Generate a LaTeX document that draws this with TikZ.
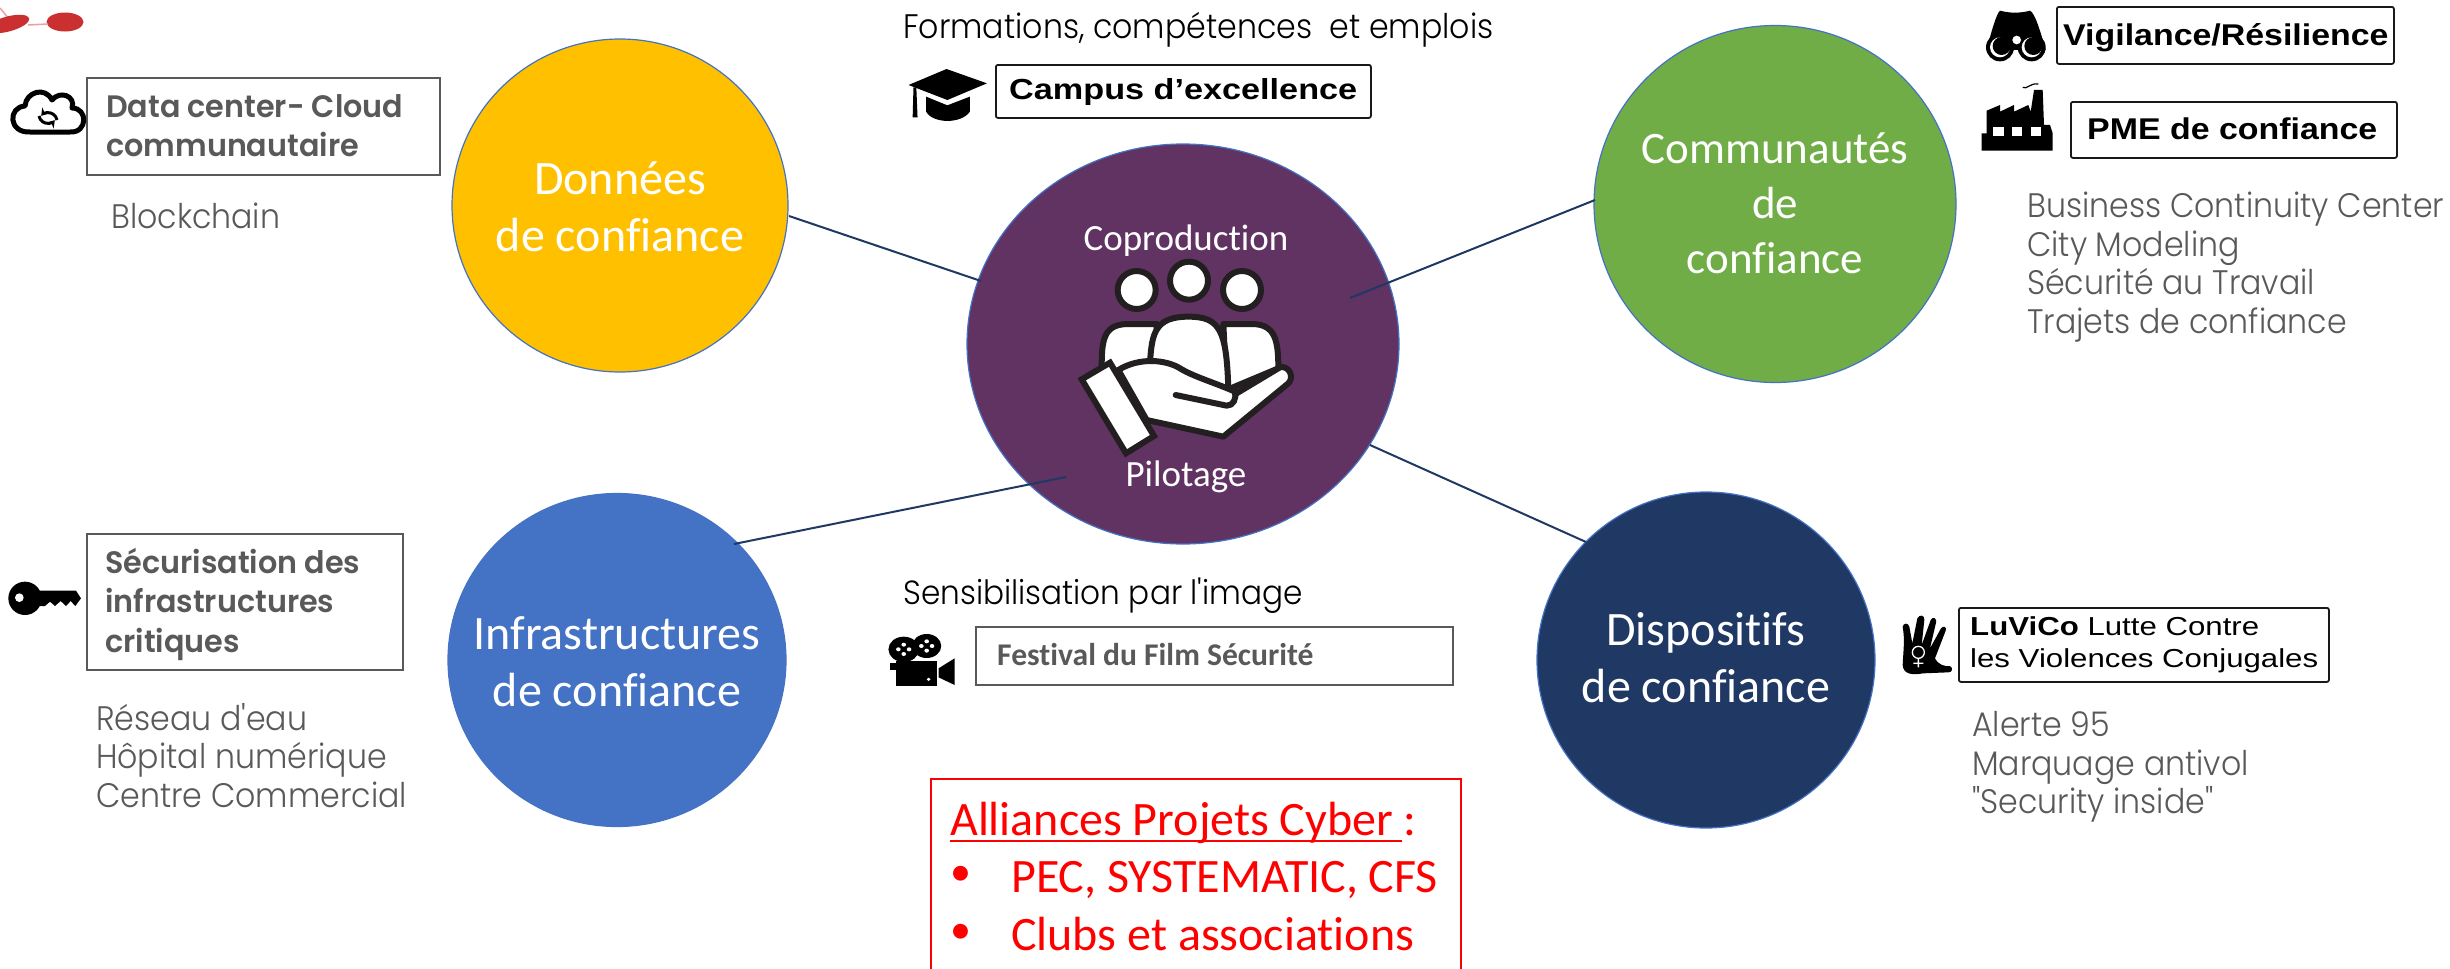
\documentclass[tikz,border=0pt]{standalone}
\usepackage{fontspec}
\usetikzlibrary{arrows.meta,shapes.geometric}
\setmainfont{Carlito}[Ligatures=NoCommon]
\newfontfamily\gothic{Poppins Light}[FakeStretch=0.93]
\newfontfamily\gothicb{Poppins SemiBold}[FakeStretch=0.975]
\newfontfamily\helv{Liberation Sans}[FakeStretch=1.13]
\newfontfamily\helvc{Liberation Sans}[FakeStretch=1.18]
\newfontfamily\helvl{Liberation Sans}[FakeStretch=1.2]
\definecolor{grayt}{HTML}{595959}
\definecolor{navy}{HTML}{1F3864}
\definecolor{edgeb}{HTML}{4472C4}
\definecolor{iconk}{HTML}{231F20}
\definecolor{gold}{HTML}{FFC000}
\definecolor{leaf}{HTML}{70AD47}
\definecolor{plum}{HTML}{603363}
\definecolor{redblob}{HTML}{C9302F}
\tikzset{
  x=1pt,y=-1pt,
  disc/.style={ellipse,draw=edgeb,line width=1.2pt,inner sep=0pt},
  link/.style={draw=navy,line width=2pt},
  disctext/.style={align=center,text=white,inner sep=0pt,anchor=center},
  lab/.style={anchor=base west,inner sep=0pt,align=left},
  thinbox/.style={draw=black!65,line width=2pt,rectangle,inner sep=0pt,anchor=north west},
  blackbox/.style={draw=black!90,line width=1.8pt,rectangle,rounded corners=2pt,inner sep=0pt,anchor=north west},
  listt/.style={lab,text=grayt,font=\gothic\fontsize{34}{38.4}\selectfont},
  headt/.style={lab,text=black,font=\gothic\fontsize{34}{38}\selectfont},
  graybold/.style={lab,text=grayt,font=\gothicb\fontsize{31}{39.5}\selectfont},
  blackt/.style={lab,text=black,font=\helv\bfseries\fontsize{30}{32}\selectfont},
  redt/.style={lab,text=red,font=\fontsize{48}{48}\selectfont},
  wt/.style={disctext,font=\fontsize{48}{57}\selectfont},
  ict/.style={inner sep=0pt,anchor=base,text=white,font=\fontsize{37}{37}\selectfont},
  handline/.style={draw=iconk,line width=6pt,line join=round,line cap=round,fill=white}
}
\begin{document}
\begin{tikzpicture}
\useasboundingbox (0,0) rectangle (2450,969);
\fill[white] (0,0) rectangle (2450,969);

% red blobs, cut by the top-left corner
\draw[redblob!45,line width=1.5pt] (0,8) -- (9,19);
\fill[redblob] (8,24) ellipse [x radius=22,y radius=7.5,rotate=15];
\fill[redblob] (65,22) ellipse [x radius=18.5,y radius=9.5];
\draw[redblob!45,line width=1.5pt] (28,25) -- (48,24);

% discs
\node[disc,fill=gold,minimum width=336pt,minimum height=333pt] (donnees) at (620,205.5) {};
\node[disc,fill=leaf,minimum width=362pt,minimum height=357pt] (communautes) at (1775,204) {};
\node[disc,fill=edgeb,minimum width=338pt,minimum height=333pt] (infra) at (617,660) {};
\node[disc,fill=navy,minimum width=338pt,minimum height=336pt] (dispositifs) at (1706,660) {};
\node[ellipse,draw=edgeb,line width=1.2pt,fill=plum,inner sep=0pt,minimum width=432pt,minimum height=400pt] (pilotage) at (1183,344) {};

% connectors
\coordinate (d1) at (789,216); \coordinate (d2) at (981,281);
\coordinate (c1) at (1595,200); \coordinate (c2) at (1350,298);
\coordinate (i1) at (734,544); \coordinate (i2) at (1066,477);
\coordinate (p1) at (1586,542); \coordinate (p2) at (1370,445);
\draw[link] (d1) -- (d2);
\draw[link] (c1) -- (c2);
\draw[link] (i1) -- (i2);
\draw[link] (p1) -- (p2);

% disc labels
\node[wt] (tdonnees) at (620,207) {Données\\de confiance};
\node[wt,font=\fontsize{45}{55}\selectfont] (tcomm) at (1775,203) {Communautés\\de\\confiance};
\node[wt] (tinfra) at (617,662) {Infrastructures\\de confiance};
\node[wt] (tdisp) at (1706,658) {Dispositifs\\de confiance};
\node[ict] (tcopro) at (1186,250) {Coproduction};
\node[ict] (tpilot) at (1186,486) {Pilotage};

% top centre
\node[headt] (tform) at (903,38) {Formations, compétences\ \ et emplois};
\node[blackbox,minimum width=375pt,minimum height=53pt] (bcampus) at (995,64) {};
\node[lab,text=black,font=\helvc\bfseries\fontsize{29}{32}\selectfont] (tcampus) at (1009,99) {Campus d’excellence};

% top right
\node[blackbox,minimum width=337pt,minimum height=57pt] (bvigil) at (2056,6) {};
\node[blackt] (tvigil) at (2063,45) {Vigilance/Résilience};
\node[blackbox,minimum width=326pt,minimum height=56pt] (bpme) at (2070,101) {};
\node[blackt] (tpme) at (2087,139) {PME de confiance};
\node[listt] (lcomm) at (2027,333) {Business Continuity Center\\City Modeling\\Sécurité au Travail\\Trajets de confiance};

% left column
\node[thinbox,minimum width=353pt,minimum height=97pt] (bcloud) at (86,77) {};
\node[graybold] (tcloud) at (106,156.5) {Data center- Cloud\\communautaire};
\node[listt] (lchain) at (111,228) {Blockchain};
\node[thinbox,minimum width=316pt,minimum height=136pt] (bsecu) at (86,533) {};
\node[graybold] (tsecu) at (105,652) {Sécurisation des\\infrastructures\\critiques};
\node[listt] (lres) at (96,807) {Réseau d'eau\\Hôpital numérique\\Centre Commercial};

% bottom centre
\node[headt,font=\gothic\fontsize{33.5}{38}\selectfont] (tsens) at (903,604) {Sensibilisation par l'image};
\node[thinbox,minimum width=477pt,minimum height=58pt] (bfilm) at (975,626) {};
\node[lab,text=grayt,font=\bfseries\fontsize{31.6}{32}\selectfont] (tfilm) at (997,665) {Festival du Film Sécurité};

% bottom right
\node[blackbox,minimum width=370pt,minimum height=74pt] (bluv) at (1958,607) {};
\node[lab,text=black,font=\helvl\fontsize{26}{32}\selectfont] (tluv) at (1970,667) {\textbf{LuViCo} Lutte Contre\\les Violences Conjugales};
\node[listt] (lalert) at (1972,813.5) {Alerte 95\\Marquage antivol\\"Security inside"};

% red box
\draw[red,line width=2.5pt] (931,969) |- (1461,779) -- (1461,969);
\node[redt] (tall) at (950,835) {Alliances Projets Cyber :};
\draw[red,line width=2.5pt] (tall.base west) ++(0,6) -- ++(452,0);
\node[redt,font=\fontsize{42}{42}\selectfont] (b1) at (950,885) {•};
\node[redt] (tpec) at (1011,892) {PEC, SYSTEMATIC, CFS};
\node[redt,font=\fontsize{42}{42}\selectfont] (b2) at (950,943) {•};
\node[redt] (tclub) at (1011,950) {Clubs et associations};

% cloud icon
\draw[black,line width=5pt,fill=white,line join=round]
 (30,132) .. controls (8,133) and (8,107) .. (25,106)
 .. controls (26,92) and (45,86) .. (52,100)
 .. controls (60,90) and (76,96) .. (72,108)
 .. controls (88,108) and (88,133) .. (70,132) -- cycle;
\draw[line width=3pt,-{Stealth[length=7pt,width=9pt]}] (39,116) arc[start angle=170,end angle=40,radius=9];
\draw[line width=3pt,-{Stealth[length=7pt,width=9pt]}] (57,120) arc[start angle=350,end angle=220,radius=9];

% graduation cap
\begin{scope}[shift={(880,0)},xscale=1/2.45,yscale=1/3]
\fill (163,207) -- (262,250) -- (165,300) -- (70,255) -- cycle;
\fill (113,290) -- (165,316) -- (220,290) -- (220,335) .. controls (200,372) and (130,372) .. (113,335) -- cycle;
\fill (82,262) -- (89,262) -- (92,352) -- (80,352) -- cycle;
\end{scope}

% binoculars
\begin{scope}[shift={(1960,0)},scale=1/3]
\fill (120,32) .. controls (150,40) and (180,40) .. (210,32) .. controls (225,40) and (240,90) .. (257,150) -- (80,150) .. controls (95,90) and (110,40) .. (120,32) -- cycle;
\fill (120,142) circle[radius=42];
\fill (215,142) circle[radius=42];
\fill[white] (120,142) circle[radius=30];
\fill[white] (215,142) circle[radius=30];
\fill (125,138) circle[radius=27];
\fill (220,138) circle[radius=27];
\fill[white] (170,120) circle[radius=13];
\end{scope}

% factory
\begin{scope}[shift={(1960,0)},scale=1/3]
\fill (65,400) -- (80,400) -- (80,332) -- (120,315) -- (120,335) -- (162,315) -- (162,335) -- (205,315) -- (212,335) -- (222,270) -- (248,270) -- (252,375) -- (270,375) -- (278,400) -- (278,452) -- (65,452) -- cycle;
\fill[white] (99,380) rectangle (131,408);
\fill[white] (155,380) rectangle (186,408);
\fill[white] (212,380) rectangle (243,408);
\draw[line width=1.2pt] (188,262) .. controls (200,270) and (210,248) .. (235,252);
\end{scope}

% key
\begin{scope}[shift={(0,520)},scale=1/3]
\fill (75,235) circle[radius=50];
\fill (115,212) -- (228,212) -- (243,235) -- (226,258) -- (212,243) -- (198,258) -- (182,243) -- (165,258) -- (150,245) -- (135,258) -- (115,258) -- cycle;
\fill[white] (58,233) circle[radius=13];
\end{scope}

% film camera
\begin{scope}[shift={(880,570)},xscale=1/2.613,yscale=1/3]
\fill (62,238) ellipse [x radius=40,y radius=38];
\fill (122,228) ellipse [x radius=38,y radius=36];
\fill (42,272) rectangle (148,347);
\fill (25,278) rectangle (45,300);
\fill (153,295) -- (195,265) -- (195,345) -- (153,322) -- cycle;
\foreach \a in {0,90,180,270}{
  \fill[white] (62,238) ++(\a:14) circle[radius=6];
  \fill[white] (122,228) ++(\a:14) circle[radius=6];
}
\fill[white] (127,328) circle[radius=5];
\end{scope}

% hand with symbol
\begin{scope}[shift={(1880,590)},scale=1/3]
\fill (68,225) .. controls (70,180) and (75,150) .. (68,110) .. controls (70,98) and (85,98) .. (88,110)
 -- (97,160) -- (112,85) .. controls (118,72) and (135,75) .. (133,90)
 -- (125,165) -- (152,90) .. controls (158,78) and (172,85) .. (168,98)
 -- (150,175) -- (183,115) .. controls (190,105) and (202,112) .. (197,122)
 -- (165,205) .. controls (175,225) and (195,230) .. (210,228) .. controls (222,235) and (215,248) .. (205,247)
 -- (130,250) .. controls (100,255) and (70,255) .. (68,225) -- cycle;
\draw[white,line width=1.3pt] (115,187) circle[radius=18] (115,205) -- (115,232) (100,220) -- (130,220);
\end{scope}

% central people in a hand
\begin{scope}[shift={(1040,220)},scale=1/3]
\draw[handline] (290,210) circle[radius=57];
\draw[handline] (447,182) circle[radius=57];
\draw[handline] (606,210) circle[radius=57];
\draw[handline] (185,445) .. controls (185,360) and (190,315) .. (260,312) -- (350,312) -- (350,470) -- cycle;
\draw[handline] (715,445) .. controls (715,360) and (705,315) .. (640,312) -- (550,312) -- (560,510) -- cycle;
\draw[handline] (330,430) .. controls (335,340) and (345,290) .. (445,290) .. controls (540,290) and (560,330) .. (565,510) -- cycle;
\draw[handline] (235,450) .. controls (300,410) and (380,420) .. (420,445) .. controls (460,470) and (530,490) .. (585,515) -- (590,520) -- (720,442) .. controls (745,435) and (765,470) .. (745,490) -- (550,650) -- (320,600) -- cycle;
\draw[handline,fill=none] (407,525) -- (560,557) .. controls (580,558) and (590,535) .. (585,515);
\draw[handline,line join=miter] (125,478) -- (210,428) -- (342,648) -- (258,700) -- cycle;
\end{scope}
\end{tikzpicture}
\end{document}
